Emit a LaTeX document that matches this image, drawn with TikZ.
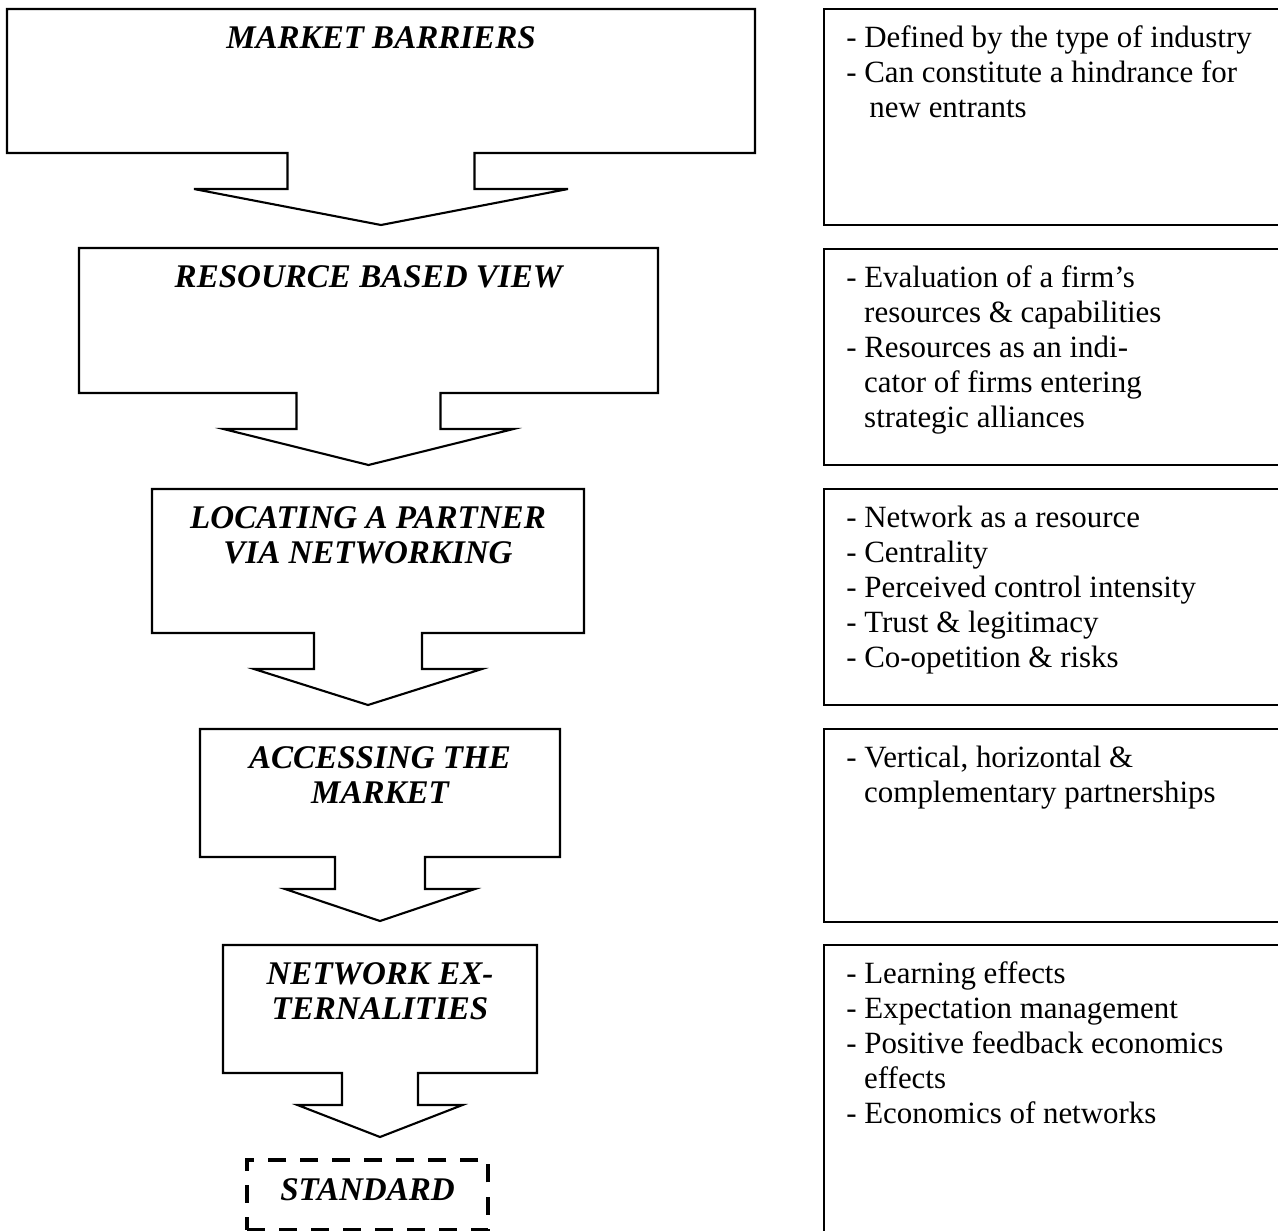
\documentclass[tikz,border=0pt]{standalone}
\usepackage{fontspec}
\setmainfont{Liberation Serif}
\usetikzlibrary{calc}
\newcommand{\contline}{\hspace*{0.58em}}
\tikzset{
  stage_box/.style={rectangle, inner sep=0pt, outer sep=0pt},
  stage_line/.style={line width=1.5pt, black, line join=miter},
  stage_title/.style={font=\fontsize{23.5}{25}\selectfont\bfseries\itshape, align=flush center, text width=10cm, inner sep=0pt, anchor=base},
  note_box/.style={rectangle, draw=black, line width=2pt, inner sep=0pt, outer sep=0pt, anchor=north west},
  note_text/.style={font=\fontsize{22}{25}\selectfont, align=flush left, text width=11cm, inner sep=0pt, anchor=base west},
  goal_box/.style={rectangle, draw=black, line width=2.8pt, dash pattern=on 12.8pt off 10pt, inner sep=0pt, outer sep=0pt}
}

\begin{document}
\begin{tikzpicture}[x=0.025cm, y=-0.025cm]

  % --- frame (pixel grid of the page) ---
  \path[use as bounding box] (0,0) rectangle (1278,1231);
  \clip (0,0) rectangle (1278,1231);

  % --- Stages with their down arrows ---
  \foreach \i/\xl/\xr/\yt/\yb/\al/\sh/\wh/\ttl in {
      1/7/755/9/153/36/93.5/187/{MARKET BARRIERS},
      2/79/658/248/393/36/72/145/{RESOURCE BASED VIEW},
      3/152/584/489/633/36/54/114/{LOCATING A PARTNER\\VIA NETWORKING},
      4/200/560/729/857/32/45/95/{ACCESSING THE\\MARKET},
      5/223/537/945/1073/32/38/82.5/{NETWORK EX-\\TERNALITIES}} {
    \node[stage_box, minimum width={(\xr-\xl)*0.025cm}, minimum height={(\yb-\yt)*0.025cm}]
      (stage\i) at ({(\xl+\xr)/2},{(\yt+\yb)/2}) {};
    \node[stage_title] (title\i) at ($(stage\i.north)+(0,39)$) {\ttl};
    \draw[stage_line] (stage\i.north west) -- (stage\i.north east) -- (stage\i.south east)
      -- ($(stage\i.south)+(\sh,0)$) -- ($(stage\i.south)+(\sh,\al)$)
      -- ($(stage\i.south)+(\wh,\al)$) -- ($(stage\i.south)+(0,2*\al)$)
      -- ($(stage\i.south)+(-\wh,\al)$) -- ($(stage\i.south)+(-\sh,\al)$)
      -- ($(stage\i.south)+(-\sh,0)$) -- (stage\i.south west) -- cycle;
  }

  % --- Final stage ---
  \node[goal_box, minimum width={241*0.025cm}, minimum height={70*0.025cm}] (goal) at (367.5,1195) {};
  \node[stage_title] (goaltitle) at ($(goal.north)+(0,40)$) {STANDARD};

  % --- Notes on the right ---
  \foreach \i/\yt/\yb in {1/9/225, 2/249/465, 3/489/705, 4/729/922, 5/945/1300} {
    \node[note_box, minimum width={476*0.025cm}, minimum height={(\yb-\yt)*0.025cm}] (note\i) at (824,\yt) {};
  }

  \node[note_text] (notetext1) at ($(note1.north west)+(22,38)$) {%
    - Defined by the type of industry\\
    - Can constitute a hindrance for\\
    \hspace*{0.75em}new entrants};
  \node[note_text] (notetext2) at ($(note2.north west)+(22,38)$) {%
    - Evaluation of a firm’s\\
    \contline resources \& capabilities\\
    - Resources as an indi-\\
    \contline cator of firms entering\\
    \contline strategic alliances};
  \node[note_text] (notetext3) at ($(note3.north west)+(22,38)$) {%
    - Network as a resource\\
    - Centrality\\
    - Perceived control intensity\\
    - Trust \& legitimacy\\
    - Co-opetition \& risks};
  \node[note_text] (notetext4) at ($(note4.north west)+(22,38)$) {%
    - Vertical, horizontal \&\\
    \contline complementary partnerships};
  \node[note_text] (notetext5) at ($(note5.north west)+(22,38)$) {%
    - Learning effects\\
    - Expectation management\\
    - Positive feedback economics\\
    \contline effects\\
    - Economics of networks};

\end{tikzpicture}
\end{document}
